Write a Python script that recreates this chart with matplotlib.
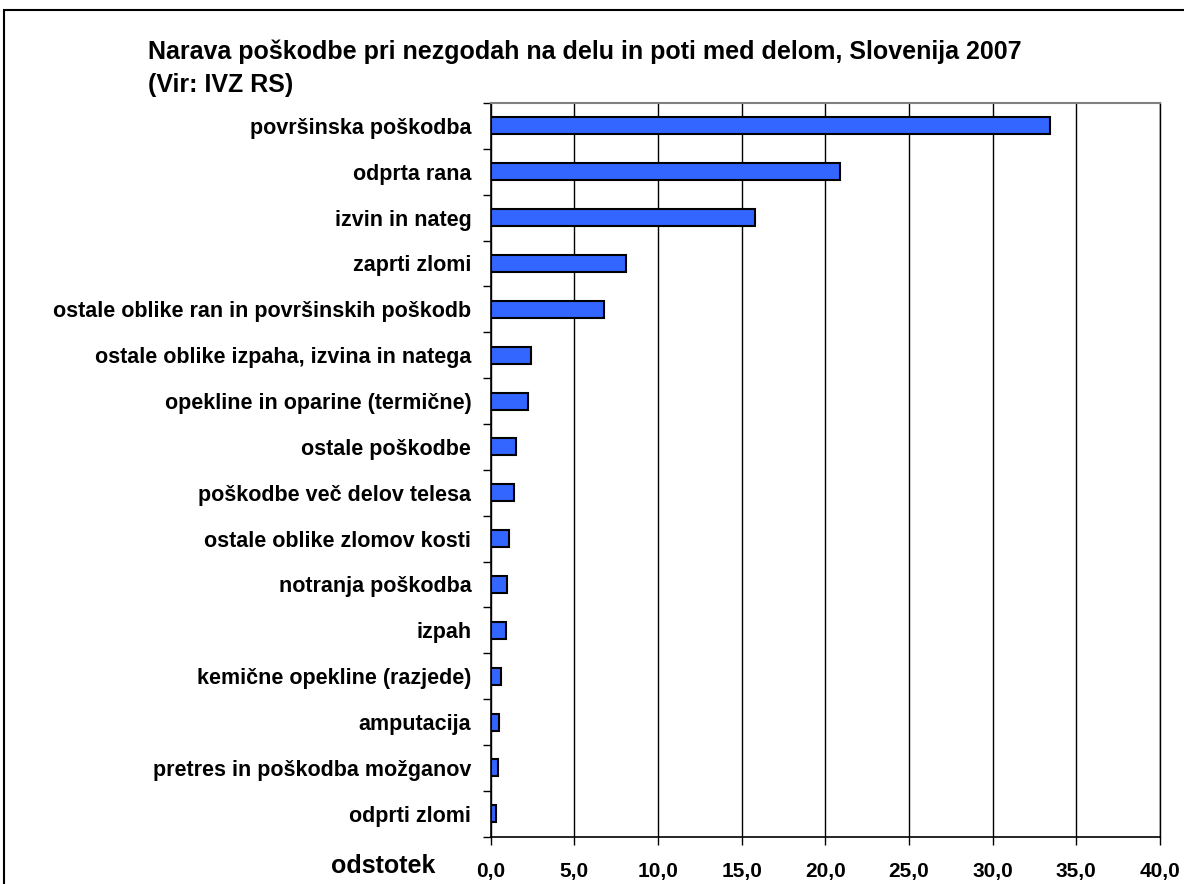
import matplotlib
matplotlib.use("Agg")
import matplotlib.pyplot as plt
import numpy as np

plt.rcParams['font.family'] = ['Liberation Sans', 'DejaVu Sans']
plt.rcParams['font.weight'] = 'bold'

categories = [
    "površinska poškodba",
    "odprta rana",
    "izvin in nateg",
    "zaprti zlomi",
    "ostale oblike ran in površinskih poškodb",
    "ostale oblike izpaha, izvina in natega",
    "opekline in oparine (termične)",
    "ostale poškodbe",
    "poškodbe več delov telesa",
    "ostale oblike zlomov kosti",
    "notranja poškodba",
    "izpah",
    "kemične opekline (razjede)",
    "amputacija",
    "pretres in poškodba možganov",
    "odprti zlomi",
]
values = [33.4, 20.9, 15.8, 8.1, 6.8, 2.4, 2.2, 1.5, 1.4, 1.1, 1.0, 0.9, 0.6, 0.5, 0.45, 0.3]
xticks = [0, 5, 10, 15, 20, 25, 30, 35, 40]
xticklabels = ["0,0", "5,0", "10,0", "15,0", "20,0", "25,0", "30,0", "35,0", "40,0"]

W, H = 1184, 884
fig = plt.figure(figsize=(W/100, H/100), dpi=100)
ax = fig.add_axes([490.7/W, 1 - 836.7/H, (1160.0-490.7)/W, (836.7-103.0)/H])

n = len(categories)
y = np.arange(n)
ax.barh(y, values, height=0.37, color='#3366FF', edgecolor='black', linewidth=1.5, zorder=3)
ax.set_ylim(n - 0.5, -0.5)
ax.set_xlim(0, 40)

ax.set_yticks(y)
ax.set_yticklabels(categories, fontsize=15.5, fontweight='bold')
ax.tick_params(axis='y', which='major', length=0, pad=14)
ax.set_yticks(np.arange(-0.5, n, 1.0), minor=True)
ax.tick_params(axis='y', which='minor', length=6, width=1, direction='out')

ax.set_xticks(xticks)
ax.set_xticklabels(xticklabels, fontsize=15, fontweight='bold')
ax.tick_params(axis='x', length=6, width=1, direction='out', pad=12)

ax.grid(axis='x', color='black', linewidth=1, zorder=0)
ax.spines['top'].set_color('#808080')
ax.spines['top'].set_linewidth(1.5)
ax.spines['right'].set_color('black')
ax.spines['right'].set_linewidth(1)
ax.spines['left'].set_linewidth(1.2)
ax.spines['bottom'].set_linewidth(1.2)

fig.text(148/W, 1 - 52/H, "Narava poškodbe pri nezgodah na delu in poti med delom, Slovenija 2007",
         fontsize=18, fontweight='bold', ha='left', va='center')
fig.text(148/W, 1 - 85/H, "(Vir: IVZ RS)",
         fontsize=18, fontweight='bold', ha='left', va='center')
fig.text(435/W, 1 - 866/H, "odstotek", fontsize=18, fontweight='bold', ha='right', va='center')

# outer border
border = plt.Rectangle((4/W, -0.05), 1.1, 1 - 10/H + 0.05, transform=fig.transFigure,
                       fill=False, edgecolor='black', linewidth=1.5)
fig.patches.append(border)

fig.savefig("out.png", dpi=100)
